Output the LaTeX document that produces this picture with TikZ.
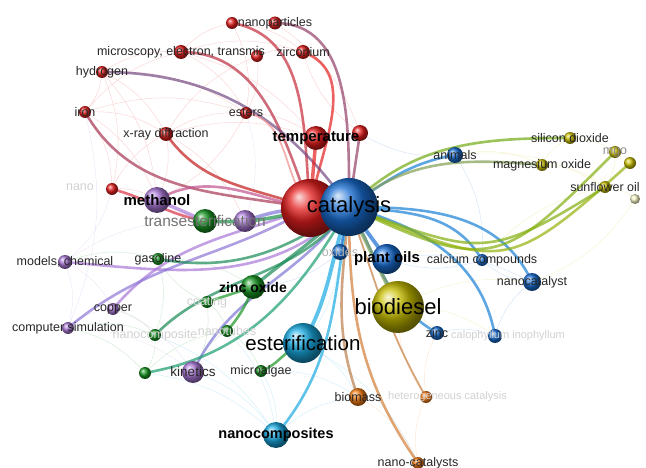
\documentclass[tikz,border=0pt]{standalone}
\usepackage{fontspec}
\setmainfont{Liberation Sans}
\usetikzlibrary{backgrounds}
\definecolor{vred}{RGB}{228,30,30}
\definecolor{vblue}{RGB}{25,110,210}
\definecolor{vgreen}{RGB}{25,150,35}
\definecolor{vpurple}{RGB}{170,120,215}
\definecolor{vcyan}{RGB}{25,170,225}
\definecolor{vyellow}{RGB}{200,190,0}
\definecolor{vorange}{RGB}{245,125,20}
\begin{document}
\begin{tikzpicture}[x=1pt, y=1pt,
    kw/.style={circle, inner sep=0pt, shading=ball},
    lab/.style={font=\fontsize{12.5}{14}\selectfont, text=black!85, inner sep=0pt},
    boldlab/.style={font=\fontsize{15}{18}\selectfont\bfseries, text=black, inner sep=0pt},
    biglab/.style={font=\fontsize{22}{26}\selectfont, text=black, inner sep=0pt},
    faint/.style={font=\fontsize{12.5}{14}\selectfont, text=black!18, inner sep=0pt},
    link/.style={line width=2.6pt, opacity=0.7},
    mesh/.style={line width=0.45pt, opacity=0.55}]
  \useasboundingbox (0,0) rectangle (646,-468);

  % keywords
  \node[kw, ball color=vred, minimum size=58pt] (catR) at (310,-208) {};
  \node[kw, ball color=vblue, minimum size=58pt] (cat) at (349,-207) {};
  \node[kw, ball color=vred, minimum size=24pt] (temp) at (316,-138) {};
  \node[kw, ball color=vred, minimum size=16pt] (temp2) at (360,-133) {};
  \node[kw, ball color=vred, minimum size=12pt] (nanoA) at (232,-23) {};
  \node[kw, ball color=vred, minimum size=13pt] (nanoB) at (275,-23) {};
  \node[kw, ball color=vred, minimum size=14pt] (micro) at (181,-52) {};
  \node[kw, ball color=vred, minimum size=12pt] (micro2) at (257,-56) {};
  \node[kw, ball color=vred, minimum size=14pt] (zirc) at (303,-52) {};
  \node[kw, ball color=vred, minimum size=12pt] (hydro) at (102,-72) {};
  \node[kw, ball color=vred, minimum size=12pt] (iron) at (85,-112) {};
  \node[kw, ball color=vred, minimum size=12pt] (esters) at (246,-113) {};
  \node[kw, ball color=vred, minimum size=14pt] (xray) at (166,-134) {};
  \node[kw, ball color=vred, minimum size=12pt] (nanostr) at (112,-189) {};
  \node[kw, ball color=vpurple, minimum size=26pt] (methanol) at (157,-200) {};
  \node[kw, ball color=vpurple, minimum size=22pt] (transP) at (245,-221) {};
  \node[kw, ball color=vpurple, minimum size=14pt] (models) at (65,-262) {};
  \node[kw, ball color=vpurple, minimum size=12pt] (copper) at (113,-309) {};
  \node[kw, ball color=vpurple, minimum size=12pt] (compsim) at (68,-328) {};
  \node[kw, ball color=vpurple, minimum size=22pt] (kinetics) at (193,-372) {};
  \node[kw, ball color=vgreen, minimum size=24pt] (trans) at (205,-221) {};
  \node[kw, ball color=vgreen, minimum size=12pt] (gasoline) at (158,-259) {};
  \node[kw, ball color=vgreen, minimum size=24pt] (zno) at (253,-287) {};
  \node[kw, ball color=vgreen, minimum size=12pt] (coating) at (207,-302) {};
  \node[kw, ball color=vgreen, minimum size=12pt] (nanotubes) at (227,-331) {};
  \node[kw, ball color=vgreen, minimum size=12pt] (nanocomp) at (155,-335) {};
  \node[kw, ball color=vgreen, minimum size=12pt] (greenx) at (145,-373) {};
  \node[kw, ball color=vgreen, minimum size=12pt] (algae) at (261,-371) {};
  \node[kw, ball color=vcyan, minimum size=40pt] (ester) at (303,-343) {};
  \node[kw, ball color=vcyan, minimum size=26pt] (ncomps) at (276,-435) {};
  \node[kw, ball color=vblue, minimum size=16pt] (oxides) at (340,-252) {};
  \node[kw, ball color=vblue, minimum size=30pt] (plant) at (387,-259) {};
  \node[kw, ball color=vblue, minimum size=16pt] (animals) at (455,-155) {};
  \node[kw, ball color=vblue, minimum size=12pt] (calcium) at (482,-260) {};
  \node[kw, ball color=vblue, minimum size=18pt] (nanocat) at (532,-282) {};
  \node[kw, ball color=vblue, minimum size=14pt] (zinc) at (437,-333) {};
  \node[kw, ball color=vblue, minimum size=14pt] (calo) at (495,-336) {};
  \node[kw, ball color=vyellow, minimum size=52pt] (biodiesel) at (398,-307) {};
  \node[kw, ball color=vyellow, minimum size=12pt] (sio2) at (570,-138) {};
  \node[kw, ball color=vyellow, minimum size=12pt] (mgo) at (615,-152) {};
  \node[kw, ball color=vyellow, minimum size=12pt] (mgox) at (542,-165) {};
  \node[kw, ball color=vyellow, minimum size=12pt] (sunfl) at (605,-187) {};
  \node[kw, ball color=vyellow, minimum size=12pt] (yel2) at (630,-163) {};
  \node[kw, ball color=vyellow!25, minimum size=10pt] (yel3) at (635,-199) {};
  \node[kw, ball color=vorange, minimum size=18pt] (biomass) at (358,-397) {};
  \node[kw, ball color=vorange, minimum size=12pt] (hetero) at (426,-397) {};
  \node[kw, ball color=vorange, minimum size=12pt] (ncats) at (418,-463) {};

  \begin{scope}[on background layer]
  % faint links
  \foreach \a/\b/\c in {hydro/iron/vred, hydro/micro/vred, hydro/xray/vred, iron/xray/vred,
      iron/nanostr/vred, micro/nanoA/vred, micro/esters/vred, nanoA/zirc/vred, xray/esters/vred,
      esters/temp/vred, xray/methanol/vred, nanostr/methanol/vred, nanostr/models/vpurple,
      models/compsim/vpurple, models/gasoline/vgreen, compsim/copper/vpurple, copper/nanocomp/vgreen,
      nanocomp/greenx/vgreen, greenx/kinetics/vgreen, kinetics/ncomps/vcyan, nanocomp/coating/vgreen,
      coating/gasoline/vgreen, nanotubes/algae/vgreen, algae/ncomps/vcyan, ncomps/biomass/vcyan,
      biomass/ncats/vorange, ncats/hetero/vorange, hetero/biodiesel/vorange, biodiesel/zinc/vyellow,
      zinc/calo/vblue, calo/nanocat/vblue, nanocat/calcium/vblue, calcium/plant/vblue,
      calcium/sunfl/vyellow, sunfl/yel3/vyellow, animals/mgox/vyellow, mgox/sio2/vyellow,
      animals/temp2/vblue, temp2/zirc/vred, esters/transP/vpurple, iron/compsim/vpurple,
      hydro/nanostr/vred, micro/temp/vred, gasoline/zno/vgreen, kinetics/nanotubes/vgreen,
      ester/biomass/vcyan, nanocomp/ncomps/vcyan, compsim/greenx/vgreen, models/copper/vpurple,
      yel3/nanocat/vyellow, mgo/sunfl/vyellow, nanostr/xray/vred, micro2/zirc/vred,
      greenx/ncomps/vcyan, biodiesel/calo/vyellow, plant/nanocat/vblue,
      hydro/esters/vred, iron/micro/vred, iron/esters/vred, xray/micro2/vred, xray/temp/vred,
      micro/zirc/vred, nanoA/esters/vred, micro2/esters/vred, hydro/methanol/vred,
      iron/methanol/vred, xray/transP/vred, esters/methanol/vred, nanoB/temp2/vred,
      models/trans/vpurple, compsim/nanocomp/vgreen, copper/kinetics/vpurple, gasoline/nanocomp/vgreen,
      coating/nanotubes/vgreen, coating/kinetics/vgreen, nanotubes/ncomps/vcyan, algae/biomass/vcyan,
      ester/ncats/vcyan, hetero/zinc/vorange, biodiesel/nanocat/vyellow, animals/calcium/vblue,
      mgox/sunfl/vyellow, sio2/mgo/vyellow, animals/sunfl/vyellow, plant/calcium/vyellow,
      oxides/zno/vblue, oxides/ester/vcyan, greenx/nanotubes/vgreen, compsim/kinetics/vpurple}
    \draw[mesh, \c!35] (\a.center) to[bend left=18] (\b.center);

  % red cluster
  \draw[link, vred] (zirc.center) to[out=-20, in=80] (catR.center);
  \draw[link, vred!60!vblue] (nanoB.center) to[out=0, in=90] (cat.center);
  \draw[link, vred!85!vblue] (nanoA.center) to[out=-10, in=95] (catR.center);
  \draw[link, vred!80!vblue] (micro.center) to[out=0, in=110] (catR.center);
  \draw[link, vred!45!vblue] (hydro.center) to[out=0, in=125] (cat.center);
  \draw[link, vred!70!vblue] (iron.center) to[out=-60, in=170] (catR.center);
  \draw[link, vred!85!black] (xray.center) to[out=-55, in=160] (catR.center);
  \draw[link, vred!50, line width=1.8pt] (esters.center) to[out=-10, in=130] (catR.center);
  \draw[link, vred, line width=3.5pt] (temp.center) -- (catR.center);
  \draw[link, vred!60!vblue] (temp2.center) -- (cat.center);
  \draw[link, vred!80!vpurple] (nanostr.center) to[out=-15, in=170] (trans.center);
  % purple cluster
  \draw[link, vpurple, line width=3.5pt] (methanol.center) -- (trans.center);
  \draw[link, vpurple!60!vred] (methanol.center) to[out=30, in=170] (catR.center);
  \draw[link, vpurple!70!vblue, line width=3.5pt] (transP.center) to[bend left=8] (catR.center);
  \draw[link, vpurple] (models.center) to[out=-5, in=225] (cat.center);
  \draw[link, vpurple] (copper.center) to[out=50, in=200] (catR.center);
  \draw[link, vpurple!80!vblue] (compsim.center) to[out=40, in=210] (catR.center);
  \draw[link, vpurple!70!vblue] (kinetics.center) to[out=65, in=235] (cat.center);
  % green cluster
  \draw[link, vgreen!80!vblue, line width=3.5pt] (trans.center) to[bend right=10] (catR.center);
  \draw[link, vgreen!70!vblue] (gasoline.center) to[out=-10, in=215] (cat.center);
  \draw[link, vgreen!70!vblue, line width=3.2pt] (zno.center) to[out=40, in=225] (cat.center);
  \draw[link, vgreen] (coating.center) -- (zno.center);
  \draw[link, vgreen] (nanotubes.center) to[bend right=10] (zno.center);
  \draw[link, vgreen!70!vblue] (nanocomp.center) to[out=45, in=235] (cat.center);
  \draw[link, vgreen!60!vcyan] (greenx.center) to[out=10, in=240] (cat.center);
  \draw[link, vgreen] (algae.center) to[out=20, in=200] (ester.center);
  % cyan cluster
  \draw[link, vcyan, line width=3.8pt] (ester.center) to[out=60, in=-110] (cat.center);
  \draw[link, vcyan] (ncomps.center) to[out=50, in=-100] (cat.center);
  % blue cluster
  \draw[link, vblue!70!vcyan] (cat.center) to[out=35, in=190] (animals.center);
  \draw[link, vblue!70!vcyan] (cat.center) to[out=-5, in=120] (calcium.center);
  \draw[link, vblue!70!vcyan] (cat.center) to[out=0, in=115] (nanocat.center);
  \draw[link, vblue!70!vcyan] (cat.center) to[out=-60, in=150] (zinc.center);
  \draw[link, vblue!70!vcyan] (cat.center) to[out=-15, in=100] (calo.center);
  \draw[link, vblue, line width=3.8pt] (cat.center) -- (plant.center);
  \draw[link, vblue] (cat.center) -- (oxides.center);
  \draw[link, vyellow!60!vblue, line width=3.8pt] (cat.center) -- (biodiesel.center);
  % yellow cluster
  \draw[link, vyellow!50!vgreen] (cat.center) to[out=45, in=180] (sio2.center);
  \draw[link, vyellow!60!vblue] (cat.center) to[out=40, in=175] (mgox.center);
  \draw[link, vyellow!60!vgreen] (cat.center) to[out=-25, in=225, looseness=1.5] (mgo.center);
  \draw[link, vyellow!70!vgreen] (cat.center) to[out=-22, in=222, looseness=1.5] (yel2.center);
  \draw[link, vyellow!60!vgreen] (cat.center) to[out=-20, in=212, looseness=1.4] (sunfl.center);
  % orange cluster
  \draw[link, vorange!50!gray] (biomass.center) to[out=110, in=-95] (cat.center);
  \draw[link, vorange!70!gray] (ncats.center) to[out=125, in=-90] (cat.center);
  \draw[link, vorange!60!gray, line width=1.8pt] (hetero.center) to[out=120, in=-70] (cat.center);
  \end{scope}

  % labels
  \node[lab] (t-nanoB) at (nanoB) {nanoparticles};
  \node[lab] (t-micro) at (micro) {microscopy, electron, transmis};
  \node[lab] (t-zirc) at (zirc) {zirconium};
  \node[lab] (t-hydro) at (hydro) {hydrogen};
  \node[lab] (t-iron) at (iron) {iron};
  \node[lab] (t-esters) at (esters) {esters};
  \node[lab] (t-xray) at (xray) {x-ray diffraction};
  \node[faint] (t-nanostr) at (80,-187) {nano};
  \node[boldlab] (t-temp) at (temp) {temperature};
  \node[boldlab] (t-methanol) at (methanol) {methanol};
  \node[font=\fontsize{15.5}{18}\selectfont, text=black!55, inner sep=0pt] (t-trans) at (trans) {transesterification};
  \node[lab] (t-models) at (models) {models, chemical};
  \node[lab] (t-gasoline) at (gasoline) {gasoline};
  \node[lab] (t-copper) at (copper) {copper};
  \node[lab] (t-compsim) at (compsim) {computer simulation};
  \node[faint] (t-coating) at (coating) {coating};
  \node[faint] (t-nanocomp) at (nanocomp) {nanocomposite};
  \node[faint] (t-nanotubes) at (nanotubes) {nanotubes};
  \node[boldlab, font=\fontsize{14}{17}\selectfont\bfseries] (t-zno) at (zno) {zinc oxide};
  \node[font=\fontsize{13.5}{16}\selectfont, text=black!85, inner sep=0pt] (t-kinetics) at (kinetics) {kinetics};
  \node[lab] (t-algae) at (algae) {microalgae};
  \node[font=\fontsize{20.5}{24}\selectfont, text=black, inner sep=0pt] (t-ester) at (ester) {esterification};
  \node[boldlab, font=\fontsize{14.5}{17}\selectfont\bfseries] (t-ncomps) at (ncomps) {nanocomposites};
  \node[faint, text=black!30] (t-oxides) at (oxides) {oxides};
  \node[faint, font=\fontsize{11}{13}\selectfont, anchor=west] (t-calo) at (451,-336) {calophyllum inophyllum};
  \node[faint, font=\fontsize{11}{13}\selectfont, anchor=west] (t-hetero) at (388,-397) {heterogeneous catalysis};
  \node[lab] (t-biomass) at (biomass) {biomass};
  \node[lab] (t-ncats) at (ncats) {nano-catalysts};
  \node[lab] (t-zinc) at (zinc) {zinc};
  \node[boldlab] (t-plant) at (plant) {plant oils};
  \node[lab] (t-calcium) at (calcium) {calcium compounds};
  \node[lab] (t-nanocat) at (nanocat) {nanocatalyst};
  \node[lab] (t-animals) at (animals) {animals};
  \node[lab] (t-sio2) at (sio2) {silicon dioxide};
  \node[lab, text=black!45] (t-mgo) at (mgo) {mgo};
  \node[lab] (t-mgox) at (mgox) {magnesium oxide};
  \node[lab] (t-sunfl) at (sunfl) {sunflower oil};
  \node[biglab] (t-cat) at (cat) {catalysis};
  \node[biglab] (t-biodiesel) at (biodiesel) {biodiesel};
\end{tikzpicture}
\end{document}
